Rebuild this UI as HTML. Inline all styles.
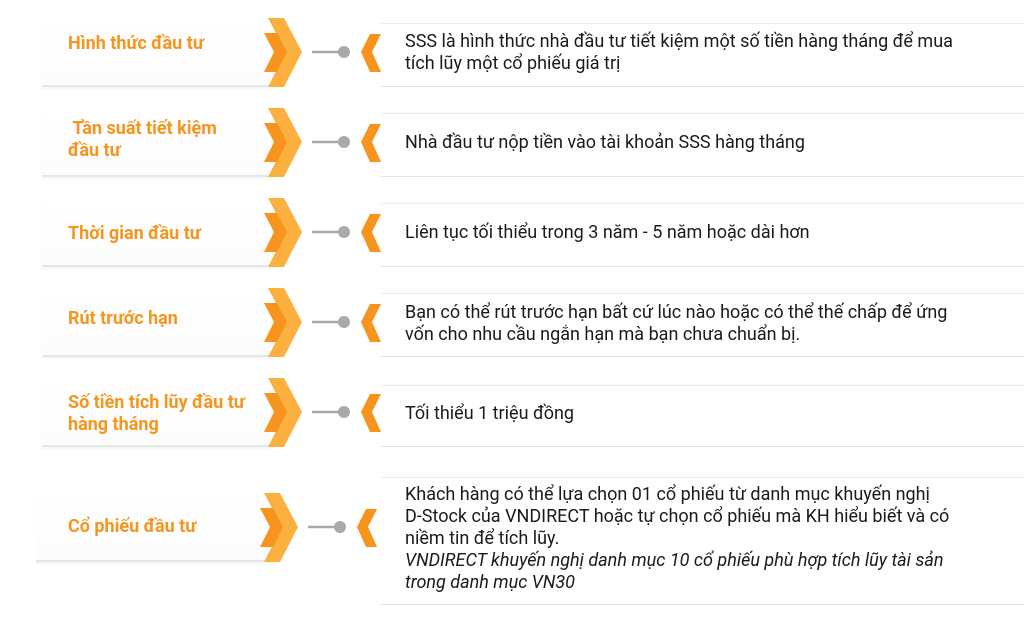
<!DOCTYPE html>
<html><head><meta charset="utf-8"><style>
body{margin:0;width:1024px;height:623px;background:#fff;position:relative;overflow:hidden;font-family:"Roboto","Liberation Sans",sans-serif}
.card{position:absolute;left:42px;width:232px;height:66px;background:linear-gradient(#fff,#fcfcfc);border-bottom:2px solid #e6e6e6;box-shadow:0 2px 2px rgba(0,0,0,0.04)}
.lt{position:absolute;left:68px;color:#f7941d;font-weight:bold;font-size:18px;line-height:22px}
.rb{position:absolute;left:381px;right:0;border-top:1px solid #ececec;border-bottom:1px solid #e4e4e4}
.rt{position:absolute;left:405px;color:#1a1a1a;font-size:18px;line-height:22px;width:610px}
svg{position:absolute;left:0;top:0}
</style></head><body>

<div class="card" style="top:19px"></div>
<div class="card" style="top:109px"></div>
<div class="card" style="top:199px"></div>
<div class="card" style="top:289px"></div>
<div class="card" style="top:379px"></div>
<div class="card" style="left:36px;width:240px;top:492px;height:68px"></div>

<div class="rb" style="top:23px;height:62px"></div>
<div class="rb" style="top:113px;height:62px"></div>
<div class="rb" style="top:203px;height:62px"></div>
<div class="rb" style="top:293px;height:62px"></div>
<div class="rb" style="top:385px;height:60px"></div>
<div class="rb" style="top:477px;height:126px"></div>

<svg width="1024" height="623">
<defs>
<g id="ch">
<polygon points="268,-34 284,-34 302,0 284,35 268,35 286,0" fill="#fbb040"/>
<polygon points="264,-19 277,-19 287,0 277,20 264,20 274,0" fill="#f7941d"/>
<line x1="312" y1="0" x2="342" y2="0" stroke="#a7a9ac" stroke-width="2.5"/>
<circle cx="344" cy="0" r="6" fill="#a7a9ac"/>
<polygon points="370,-18 381,-18 372,0 381,20 370,20 361,0" fill="#f7941d"/>
</g>
</defs>
<use href="#ch" y="52"/>
<use href="#ch" y="142"/>
<use href="#ch" y="232"/>
<use href="#ch" y="322"/>
<use href="#ch" y="412"/>
<use href="#ch" x="-4" y="527"/>
</svg>

<div class="lt" style="top:33px">Hình thức đầu tư</div>
<div class="lt" style="top:118px">&nbsp;Tần suất tiết kiệm<br>đầu tư</div>
<div class="lt" style="top:223px">Thời gian đầu tư</div>
<div class="lt" style="top:308px">Rút trước hạn</div>
<div class="lt" style="top:392px">Số tiền tích lũy đầu tư<br>hàng tháng</div>
<div class="lt" style="top:516px">Cổ phiếu đầu tư</div>

<div class="rt" style="top:31px">SSS là hình thức nhà đầu tư tiết kiệm một số tiền hàng tháng để mua<br>tích lũy một cổ phiếu giá trị</div>
<div class="rt" style="top:132px">Nhà đầu tư nộp tiền vào tài khoản SSS hàng tháng</div>
<div class="rt" style="top:222px">Liên tục tối thiểu trong 3 năm - 5 năm hoặc dài hơn</div>
<div class="rt" style="top:302px">Bạn có thể rút trước hạn bất cứ lúc nào hoặc có thể thế chấp để ứng<br>vốn cho nhu cầu ngắn hạn mà bạn chưa chuẩn bị.</div>
<div class="rt" style="top:403px">Tối thiểu 1 triệu đồng</div>
<div class="rt" style="top:484px">Khách hàng có thể lựa chọn 01 cổ phiếu từ danh mục khuyến nghị<br>D-Stock của VNDIRECT hoặc tự chọn cổ phiếu mà KH hiểu biết và có<br>niềm tin để tích lũy.<br><i>VNDIRECT khuyến nghị danh mục 10 cổ phiếu phù hợp tích lũy tài sản<br>trong danh mục VN30</i></div>
</body></html>
